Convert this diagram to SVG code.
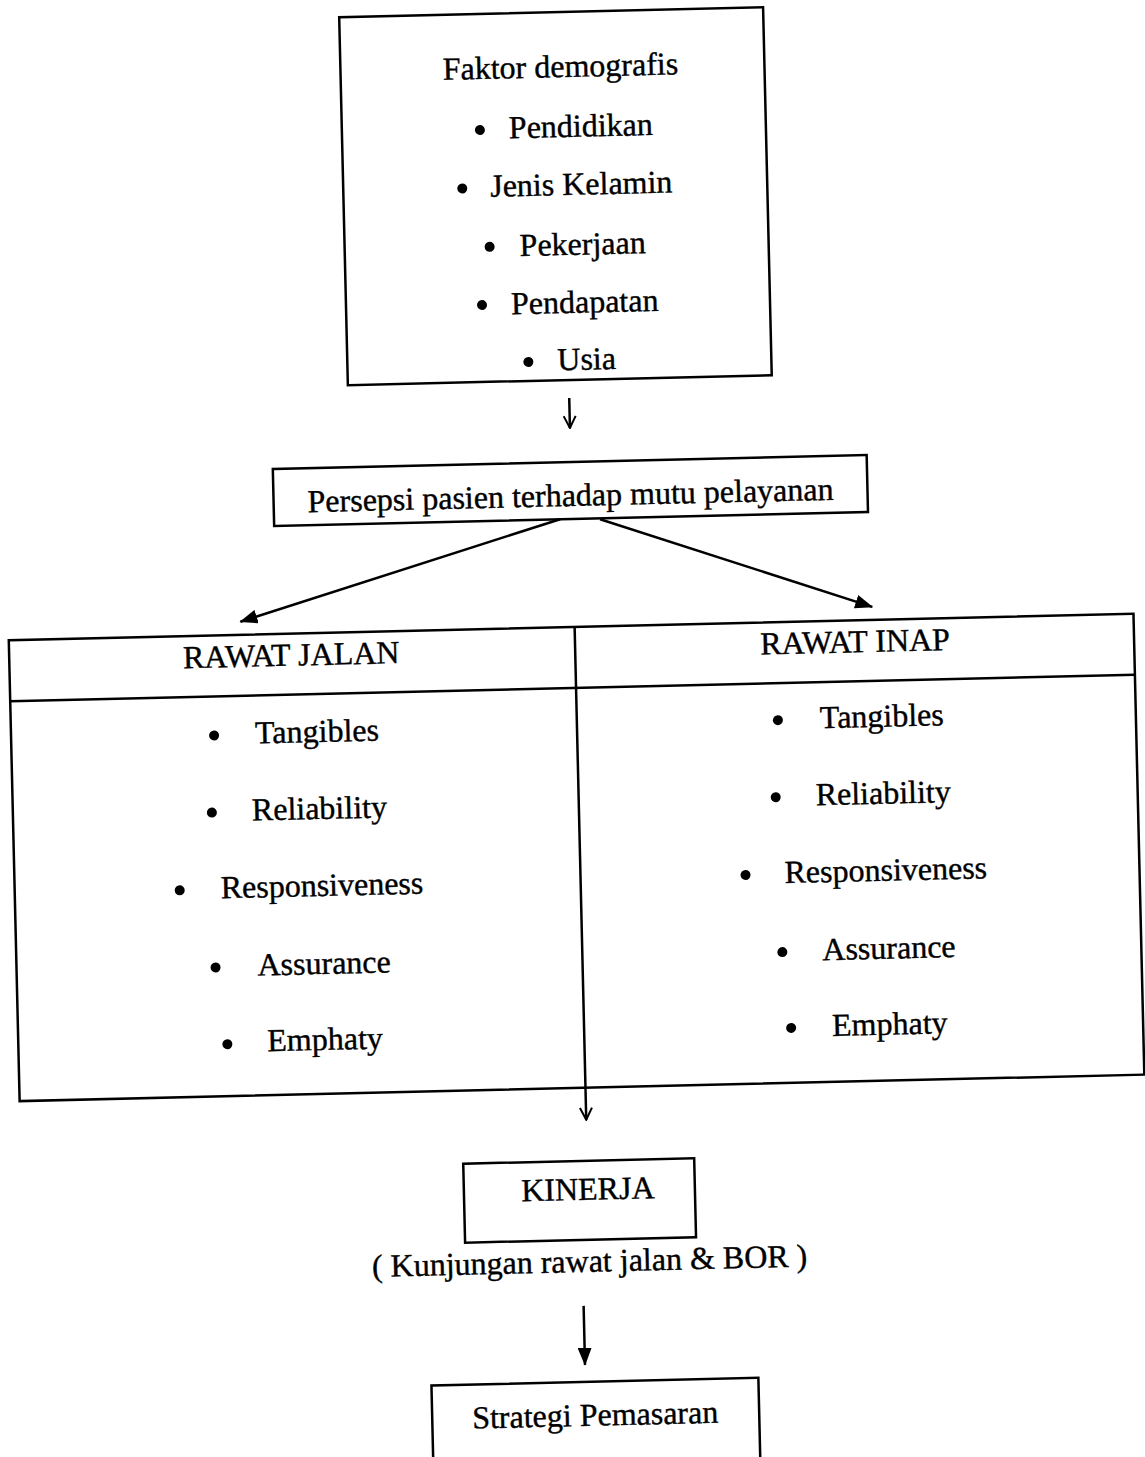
<svg xmlns="http://www.w3.org/2000/svg" width="1145" height="1457" viewBox="0 0 1145 1457">
<style>
.box{fill:none;stroke:#000;stroke-width:2.5}
.ln{fill:none;stroke:#000;stroke-width:2.5}
.t{font-family:"Liberation Serif","Times New Roman",serif;font-size:32px;fill:#000;stroke:#000;stroke-width:0.4}
.c{text-anchor:middle}
.b{fill:#000}
</style>
<defs>
<marker id="open" viewBox="0 0 14 14" refX="13" refY="7" markerWidth="14" markerHeight="14" markerUnits="userSpaceOnUse" orient="auto">
<path d="M1,1 L13,7 L1,13" fill="none" stroke="#000" stroke-width="2"/>
</marker>
<marker id="fill" viewBox="0 0 18 14" refX="17" refY="7" markerWidth="18" markerHeight="14" markerUnits="userSpaceOnUse" orient="auto">
<path d="M0,0 L18,7 L0,14 z" fill="#000"/>
</marker>
</defs>
<rect width="1145" height="1457" fill="#fff"/>
<g transform="rotate(-1.35 572 728)">
<g id="node-demografi">
<rect class="box" x="356" y="12" width="424" height="368"/>
<text class="t c" x="576" y="77">Faktor demografis</text>
<circle class="b" cx="494" cy="128" r="5"/><text class="t" x="523" y="137">Pendidikan</text>
<circle class="b" cx="475" cy="186" r="5"/><text class="t" x="503" y="195">Jenis Kelamin</text>
<circle class="b" cx="501" cy="245" r="5"/><text class="t" x="531" y="255">Pekerjaan</text>
<circle class="b" cx="492" cy="303" r="5"/><text class="t" x="521" y="313">Pendapatan</text>
<circle class="b" cx="537" cy="361" r="5"/><text class="t" x="566" y="370">Usia</text>
</g>
<g id="node-persepsi">
<rect class="box" x="279" y="462" width="594" height="57"/>
<text class="t c" x="576" y="506">Persepsi pasien terhadap mutu pelayanan</text>
</g>
<g id="node-layanan">
<rect class="box" x="11" y="627" width="1125" height="461"/>
<line class="ln" x1="11" y1="688" x2="1136" y2="688"/>
<line class="ln" x1="577" y1="627" x2="577" y2="1088"/>
</g>
<g id="node-rawat-jalan">
<text class="t c" x="293" y="659">RAWAT JALAN</text>
<circle class="b" cx="214" cy="727" r="5"/><text class="t" x="255" y="736">Tangibles</text>
<circle class="b" cx="210" cy="804" r="5"/><text class="t" x="250" y="813">Reliability</text>
<circle class="b" cx="176" cy="881" r="5"/><text class="t" x="217" y="890">Responsiveness</text>
<circle class="b" cx="210" cy="959" r="5"/><text class="t" x="252" y="968">Assurance</text>
<circle class="b" cx="220" cy="1036" r="5"/><text class="t" x="260" y="1044">Emphaty</text>
</g>
<g id="node-rawat-inap">
<text class="t c" x="857" y="659">RAWAT INAP</text>
<circle class="b" cx="778" cy="725" r="5"/><text class="t" x="820" y="734">Tangibles</text>
<circle class="b" cx="774" cy="802" r="5"/><text class="t" x="814" y="811">Reliability</text>
<circle class="b" cx="742" cy="879" r="5"/><text class="t" x="781" y="888">Responsiveness</text>
<circle class="b" cx="777" cy="957" r="5"/><text class="t" x="817" y="966">Assurance</text>
<circle class="b" cx="784" cy="1033" r="5"/><text class="t" x="825" y="1042">Emphaty</text>
</g>
<g id="node-kinerja">
<rect class="box" x="453" y="1161" width="231" height="79"/>
<text class="t c" x="577" y="1200">KINERJA</text>
<text class="t c" x="577" y="1272">( Kunjungan rawat jalan &amp; BOR )</text>
</g>
<g id="node-strategi">
<rect class="box" x="416" y="1382" width="327" height="110"/>
<text class="t c" x="579" y="1426">Strategi Pemasaran</text>
</g>
<g id="connectors">
<line class="ln" stroke-width="2" x1="577" y1="398" x2="577" y2="428" marker-end="url(#open)"/>
<line class="ln" stroke-width="3" x1="565" y1="519" x2="243" y2="614" marker-end="url(#fill)"/>
<line class="ln" stroke-width="3" x1="605" y1="520" x2="875" y2="614" marker-end="url(#fill)"/>
<line class="ln" stroke-width="2" x1="577" y1="1088" x2="577" y2="1120" marker-end="url(#open)"/>
<line class="ln" x1="570" y1="1306" x2="570" y2="1365" marker-end="url(#fill)"/>
</g>
</g>
</svg>
